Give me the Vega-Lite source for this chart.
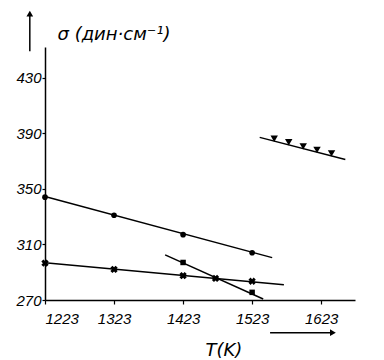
{
  "$schema": "https://vega.github.io/schema/vega-lite/v6.json",
  "autosize": {"type": "none"},
  "width": 310,
  "height": 253,
  "padding": {"left": 45, "top": 47, "right": 29, "bottom": 60},
  "background": "white",
  "config": {
    "view": {"stroke": null},
    "axis": {
      "grid": false,
      "domainColor": "black",
      "domainWidth": 1.5,
      "tickColor": "black",
      "tickWidth": 1.2,
      "labelColor": "black",
      "labelFont": "Liberation Sans",
      "labelFontStyle": "italic",
      "labelFontSize": 15,
      "titleColor": "black",
      "titleFont": "DejaVu Sans",
      "titleFontStyle": "italic",
      "titleFontWeight": "normal",
      "titleFontSize": 18
    }
  },
  "datasets": {
    "fits": [
      {"s": "a", "T": 1223, "v": 344.5}, {"s": "a", "T": 1552, "v": 300.5},
      {"s": "b", "T": 1223, "v": 296.8}, {"s": "b", "T": 1569, "v": 281},
      {"s": "c", "T": 1397, "v": 302.5}, {"s": "c", "T": 1539, "v": 270.7},
      {"s": "d", "T": 1534, "v": 387}, {"s": "d", "T": 1658, "v": 371}
    ],
    "pts": [
      {"s": "a", "T": 1223, "v": 344}, {"s": "a", "T": 1323, "v": 331}, {"s": "a", "T": 1423, "v": 317}, {"s": "a", "T": 1523, "v": 304},
      {"s": "b", "T": 1223, "v": 296.5}, {"s": "b", "T": 1323, "v": 292}, {"s": "b", "T": 1423, "v": 287.5}, {"s": "b", "T": 1470, "v": 285.5}, {"s": "b", "T": 1523, "v": 283.5},
      {"s": "c", "T": 1423, "v": 297}, {"s": "c", "T": 1523, "v": 275.5},
      {"s": "d", "T": 1555, "v": 386}, {"s": "d", "T": 1576, "v": 383.5}, {"s": "d", "T": 1597, "v": 380.5}, {"s": "d", "T": 1617, "v": 378}, {"s": "d", "T": 1638, "v": 375.5}
    ],
    "arrows": [
      {"a": "up", "T": 1201, "v": 449}, {"a": "up", "T": 1201, "v": 476},
      {"a": "right", "T": 1549, "v": 246.5}, {"a": "right", "T": 1640, "v": 246.5}
    ],
    "heads": [
      {"a": "up", "T": 1201, "v": 476},
      {"a": "right", "T": 1640, "v": 246.5}
    ]
  },
  "layer": [
    {
      "data": {"name": "fits"},
      "mark": {"type": "line", "color": "black", "strokeWidth": 1.5},
      "encoding": {
        "x": {
          "field": "T", "type": "quantitative",
          "scale": {"domain": [1223, 1672], "nice": false, "zero": false},
          "axis": {
            "values": [1223, 1323, 1423, 1523, 1623],
            "format": "d",
            "tickSize": 4,
            "labelPadding": 7,
            "title": "T(K)",
            "titleAlign": "left",
            "titleBaseline": "alphabetic",
            "titleX": 160,
            "titleY": 55
          }
        },
        "y": {
          "field": "v", "type": "quantitative",
          "scale": {"domain": [270, 452], "nice": false, "zero": false},
          "axis": {
            "values": [270, 310, 350, 390, 430],
            "format": "d",
            "tickSize": 3,
            "labelPadding": 1,
            "title": "σ (дин·см⁻¹)",
            "titleAngle": 0,
            "titleAlign": "left",
            "titleBaseline": "alphabetic",
            "titleX": 12,
            "titleY": -8
          }
        },
        "detail": {"field": "s"}
      }
    },
    {
      "data": {"name": "pts"},
      "mark": {"type": "point", "filled": true, "color": "black", "opacity": 1},
      "encoding": {
        "x": {"field": "T", "type": "quantitative"},
        "y": {"field": "v", "type": "quantitative"},
        "shape": {
          "field": "s",
          "scale": {"domain": ["a", "b", "c", "d"], "range": ["circle", "cross", "square", "triangle-down"]},
          "legend": null
        },
        "size": {
          "field": "s",
          "scale": {"type": "ordinal", "domain": ["a", "b", "c", "d"], "range": [32, 55, 30, 55]},
          "legend": null
        },
        "angle": {
          "field": "s",
          "scale": {"type": "ordinal", "domain": ["a", "b", "c", "d"], "range": [0, 45, 0, 0]},
          "legend": null
        }
      }
    },
    {
      "data": {"name": "arrows"},
      "mark": {"type": "line", "color": "black", "strokeWidth": 1.5, "clip": false},
      "encoding": {
        "x": {"field": "T", "type": "quantitative"},
        "y": {"field": "v", "type": "quantitative"},
        "detail": {"field": "a"}
      }
    },
    {
      "data": {"name": "heads"},
      "mark": {"type": "point", "filled": true, "color": "black", "opacity": 1, "size": 45, "clip": false},
      "encoding": {
        "x": {"field": "T", "type": "quantitative"},
        "y": {"field": "v", "type": "quantitative"},
        "shape": {
          "field": "a",
          "scale": {"domain": ["up", "right"], "range": ["triangle-up", "triangle-right"]},
          "legend": null
        }
      }
    }
  ],
  "resolve": {"scale": {"shape": "independent", "size": "independent", "angle": "independent"}}
}
